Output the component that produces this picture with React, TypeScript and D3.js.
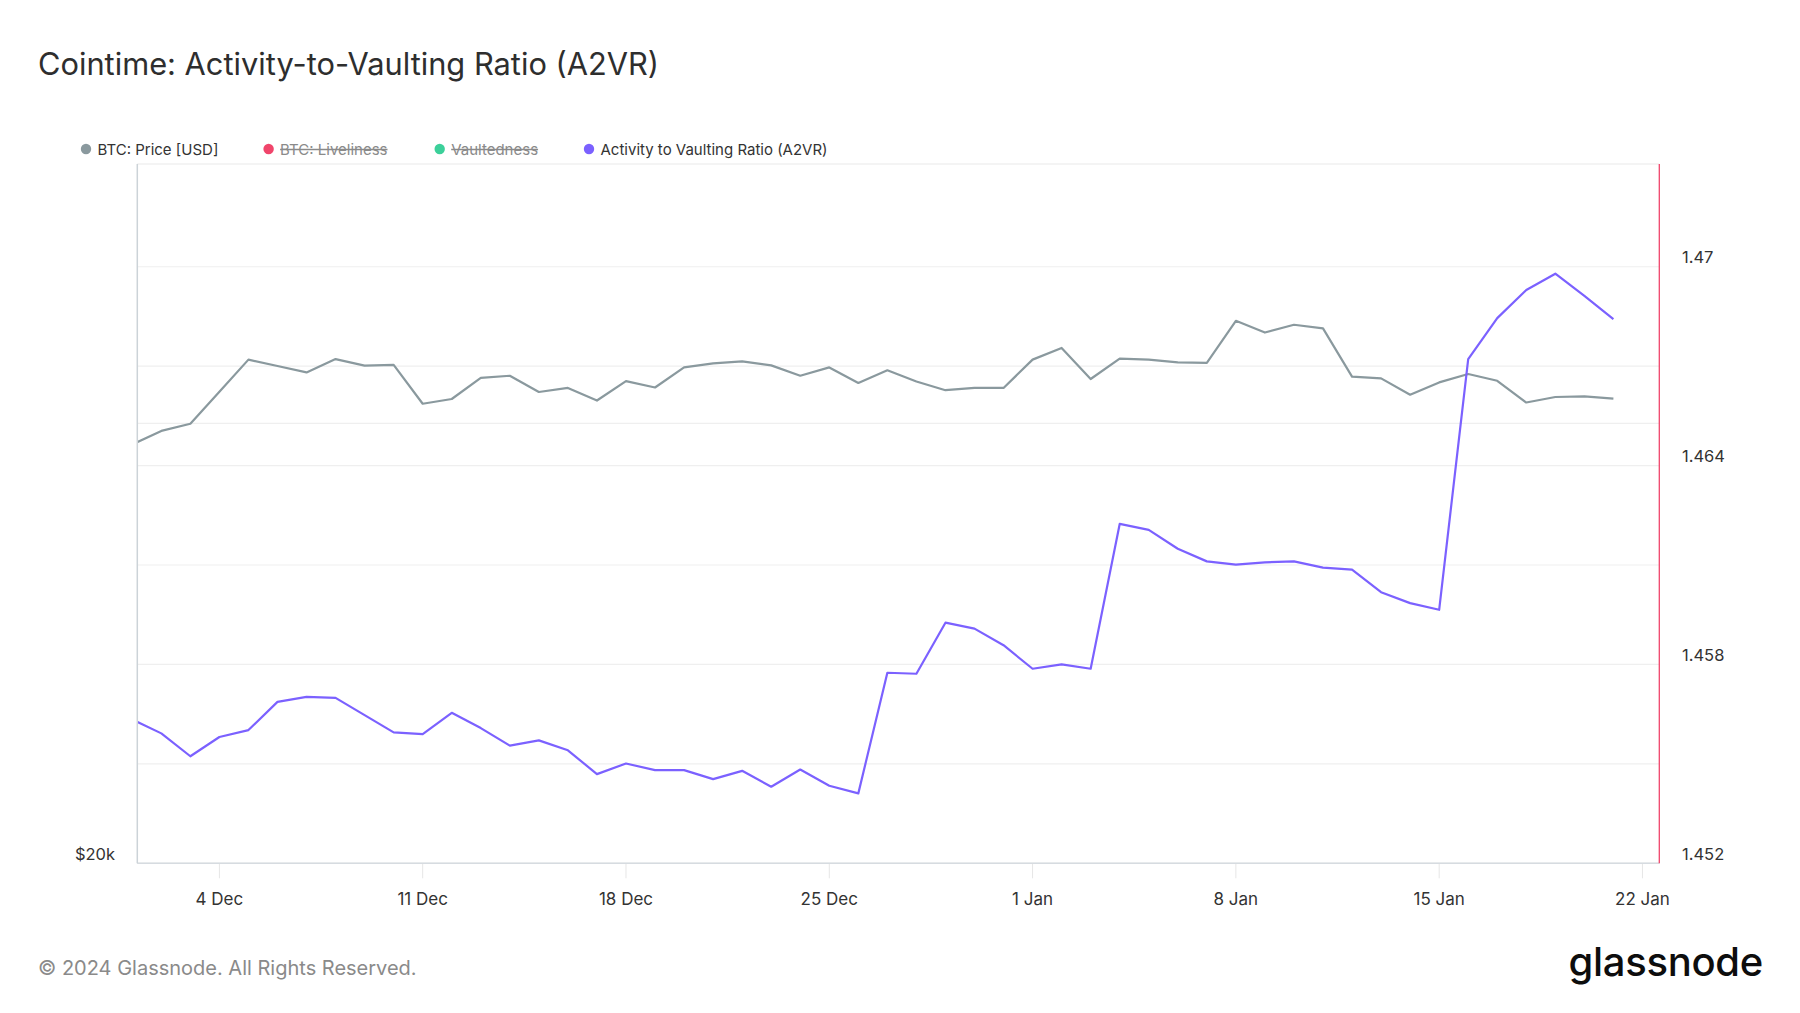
import React from "react";
import * as d3 from "d3";

const START = "2023-12-01";
const priceUsd = [38700, 39530, 39980, 42040, 44230, 43790, 43350, 44270, 43810, 43860, 41260, 41570, 42970, 43120, 42030, 42300, 41470, 42760, 42330, 43690, 43970, 44110, 43830, 43120, 43690, 42630, 43490, 42730, 42150, 42300, 42300, 44230, 45050, 42900, 44300, 44230, 44040, 44000, 47020, 46160, 46730, 46460, 43060, 42940, 41850, 42670, 43240, 42780, 41340, 41700, 41740, 41590];
const a2vr = [1.45634, 1.45592, 1.45523, 1.45581, 1.45602, 1.45687, 1.45702, 1.45699, 1.45647, 1.45595, 1.4559, 1.45654, 1.45608, 1.45555, 1.45571, 1.45541, 1.45469, 1.45501, 1.45481, 1.45481, 1.45454, 1.45479, 1.45431, 1.45483, 1.45434, 1.45411, 1.45775, 1.45772, 1.45926, 1.45908, 1.45858, 1.45787, 1.458, 1.45787, 1.46224, 1.46206, 1.46149, 1.46111, 1.46101, 1.46108, 1.46111, 1.46092, 1.46086, 1.46018, 1.45985, 1.45965, 1.46721, 1.46845, 1.4693, 1.46979, 1.46912, 1.46842];

const xTickDates = ["2023-12-04", "2023-12-11", "2023-12-18", "2023-12-25", "2024-01-01", "2024-01-08", "2024-01-15", "2024-01-22"];
const xTickLabels = ["4 Dec", "11 Dec", "18 Dec", "25 Dec", "1 Jan", "8 Jan", "15 Jan", "22 Jan"];
const rightTicks = [1.452, 1.455, 1.458, 1.461, 1.464, 1.467, 1.47];
const rightLabelTicks = [1.452, 1.458, 1.464, 1.47];
const leftTicks = [20000, 40000];
const leftLabelTicks = [20000];

const legendItems = [
  { label: "BTC: Price [USD]", color: "#8a999e", hidden: false },
  { label: "BTC: Liveliness", color: "#f0456b", hidden: true },
  { label: "Vaultedness", color: "#3cd09a", hidden: true },
  { label: "Activity to Vaulting Ratio (A2VR)", color: "#7b61ff", hidden: false },
];

const W = 1800;
const H = 1013;
const PL = 137.3;
const PR = 1659.3;
const PT = 164;
const PB = 863.3;
const DAY = 86400000;
const FONT = "Inter, 'Noto Sans', sans-serif";

export default function App() {
  const start = new Date(START + "T00:00:00Z");
  const dates = d3.utcDay.range(start, d3.utcDay.offset(start, priceUsd.length));
  const x = d3
    .scaleUtc()
    .domain([new Date(start.getTime() + 0.173 * DAY), new Date(start.getTime() + 52.58 * DAY)])
    .range([PL, PR]);
  const yL = d3.scaleLog().domain([20000, 60200]).range([PB, PT]);
  const yR = d3.scaleLinear().domain([1.452, 1.4731]).range([PB, PT]);

  const priceLine = d3
    .line<number>()
    .x((_, i) => x(dates[i]))
    .y((d) => yL(d));
  const ratioLine = d3
    .line<number>()
    .x((_, i) => x(dates[i]))
    .y((d) => yR(d));

  const tickX = (s: string) => x(new Date(s + "T00:00:00Z"));

  const fmtR = (v: number) => String(+v.toFixed(3));
  const fmtL = (v: number) => "$" + Math.round(v / 1000) + "k";

  const legendX = [86, 268.6, 439.7, 589];

  return (
    <svg
      width={W}
      height={H}
      style={{ position: "fixed", left: 0, top: 0, background: "#fff" }}
      fontFamily={FONT}
    >
      <defs>
        <clipPath id="plotClip">
          <rect x={PL} y={PT - 5} width={PR - PL} height={PB - PT + 10} />
        </clipPath>
      </defs>
      <rect x={0} y={0} width={W} height={H} fill="#fff" />
      <text x={38} y={75} fontSize={30.8} fill="#2e2e2e">
        Cointime: Activity-to-Vaulting Ratio (A2VR)
      </text>

      {legendItems.map((it, i) => {
        const tx = legendX[i] + 11.5;
        return (
          <g key={it.label}>
            <circle cx={legendX[i]} cy={149} r={5.2} fill={it.color} />
            <text
              x={tx}
              y={154.5}
              fontSize={15}
              fill={it.hidden ? "#8a8a8a" : "#333"}
              textDecoration={it.hidden ? "line-through" : undefined}
            >
              {it.label}
            </text>
          </g>
        );
      })}

      <line x1={PL} x2={PR} y1={PT} y2={PT} stroke="#e9e9e9" />

      {rightTicks.map((t) => (
        <line key={"r" + t} x1={PL} x2={PR} y1={yR(t)} y2={yR(t)} stroke="#efefef" strokeWidth={1.2} />
      ))}
      {leftTicks.map((t) => (
        <line key={"l" + t} x1={PL} x2={PR} y1={yL(t)} y2={yL(t)} stroke="#efefef" strokeWidth={1.2} />
      ))}

      {xTickDates.map((d, i) => (
        <g key={d}>
          <line x1={tickX(d)} x2={tickX(d)} y1={PB} y2={PB + 15} stroke="#e6e6e6" />
          <text x={tickX(d)} y={905} fontSize={17} fill="#333" textAnchor="middle">
            {xTickLabels[i]}
          </text>
        </g>
      ))}

      <g clipPath="url(#plotClip)">
        <path d={priceLine(priceUsd) || ""} fill="none" stroke="#8a999e" strokeWidth={2.2} strokeLinejoin="round" />
        <path d={ratioLine(a2vr) || ""} fill="none" stroke="#7b61ff" strokeWidth={2.2} strokeLinejoin="round" />
      </g>

      <line x1={PL} x2={PR} y1={PB} y2={PB} stroke="#d6dbe0" strokeWidth={1.5} />
      <line x1={PL} x2={PL} y1={PT} y2={PB} stroke="#ccd3d8" strokeWidth={1.5} />
      <line x1={PR} x2={PR} y1={PT} y2={PB} stroke="#f0456b" strokeWidth={1.3} />

      {rightLabelTicks.map((t) => (
        <text key={"rl" + t} x={1682} y={yR(t) - 3.5} fontSize={16.5} fill="#333">
          {fmtR(t)}
        </text>
      ))}
      {leftLabelTicks.map((t) => (
        <text key={"ll" + t} x={115} y={yL(t) - 3.5} fontSize={16.5} fill="#333" textAnchor="end">
          {fmtL(t)}
        </text>
      ))}

      <text x={38} y={975} fontSize={20} fill="#8a8a8a">
        © 2024 Glassnode. All Rights Reserved.
      </text>
      <text x={1763} y={976} fontSize={40} fill="#0d0d0d" textAnchor="end" fontWeight={500} letterSpacing={-0.3}>
        glassnode
      </text>
    </svg>
  );
}
